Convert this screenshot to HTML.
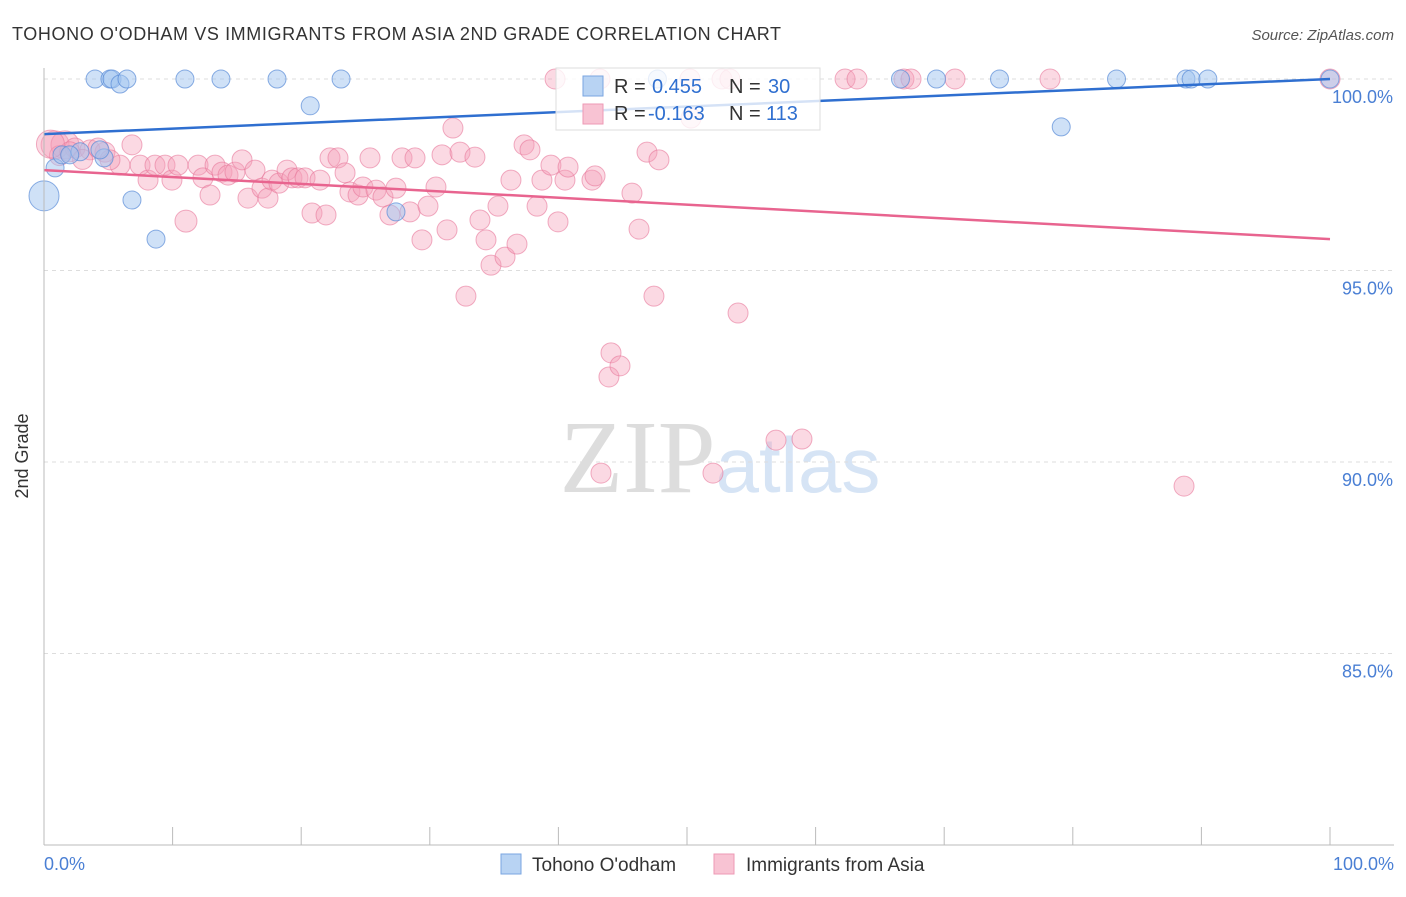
<!DOCTYPE html>
<html><head><meta charset="utf-8"><style>
body{margin:0;background:#fff;font-family:"Liberation Sans",sans-serif}
</style></head><body>
<svg id="c" width="1406" height="892" xmlns="http://www.w3.org/2000/svg">
<text x="12" y="40" font-size="18" fill="#333" textLength="769">TOHONO O'ODHAM VS IMMIGRANTS FROM ASIA 2ND GRADE CORRELATION CHART</text>
<text x="1394" y="40" font-size="15" fill="#555" text-anchor="end" font-style="italic">Source: ZipAtlas.com</text>
<text x="720" y="492" font-size="104" fill="#ddd" text-anchor="middle" font-family="Liberation Serif">ZIP<tspan fill="#d6e4f5" font-family="Liberation Sans" font-size="78">atlas</tspan></text>
<g id="grid"></g><g id="pts"></g><g id="lines"></g>
<line x1="44" y1="68" x2="44" y2="845" stroke="#bbb"/>
<line x1="44" y1="845" x2="1394" y2="845" stroke="#bbb"/>
<text x="28" y="456" font-size="18" fill="#333" text-anchor="middle" transform="rotate(-90 28 456)">2nd Grade</text>
<text x="44" y="870" font-size="18" fill="#4a7fd4">0.0%</text>
<text x="1394" y="870" font-size="18" fill="#4a7fd4" text-anchor="end">100.0%</text>
<g>
<rect x="556" y="68" width="264" height="62" fill="rgba(255,255,255,0.8)" stroke="#ddd"/>
<rect x="583" y="76" width="20" height="20" fill="#b8d3f3" stroke="#7aa6e0"/>
<rect x="583" y="104" width="20" height="20" fill="#f8c3d3" stroke="#ee9ab4"/>
<text x="614" y="93" font-size="20" fill="#333">R =</text><text x="652" y="93" font-size="20" fill="#2f6fd0">0.455</text>
<text x="729" y="93" font-size="20" fill="#333">N =</text><text x="768" y="93" font-size="20" fill="#2f6fd0">30</text>
<text x="614" y="120" font-size="20" fill="#333">R =</text><text x="648" y="120" font-size="20" fill="#2f6fd0">-0.163</text>
<text x="729" y="120" font-size="20" fill="#333">N =</text><text x="766" y="120" font-size="20" fill="#2f6fd0">113</text>
</g>
<g>
<rect x="501" y="854" width="20" height="20" fill="#b8d3f3" stroke="#7aa6e0"/>
<text x="532" y="871" font-size="19" fill="#333">Tohono O'odham</text>
<rect x="714" y="854" width="20" height="20" fill="#f8c3d3" stroke="#ee9ab4"/>
<text x="746" y="871" font-size="19" fill="#333">Immigrants from Asia</text>
</g>
</svg>
<script>
const yTicks=[100,95,90,85];
const yTickLabels=["100.0%","95.0%","90.0%","85.0%"];
const xTicks=[0,10,20,30,40,50,60,70,80,90,100];
const blueX=[3.97,5.13,5.29,5.91,6.45,10.96,13.76,18.12,23.1,20.7,0.86,1.4,2.8,4.67,6.84,8.71,27.37,0,47.7,66.6,69.4,74.3,83.4,88.8,89.2,90.5,100,79.1,2.0,4.35];
const blueY=[100,100,100,99.87,100,100,100,100,100,99.3,97.68,98.02,98.1,97.94,96.84,95.82,96.53,96.95,100,100,100,100,100,100,100,100,100,98.75,98.02,98.15];
const pinkX=[0.86,1.63,2.41,3.58,4.74,5.91,6.84,5.13,7.47,8.09,8.63,9.41,9.95,10.42,11.04,11.98,12.36,12.91,13.3,13.84,14.31,14.85,15.4,15.86,16.41,16.95,17.42,17.73,18.27,18.9,19.28,19.75,20.3,20.84,21.46,21.93,22.24,22.86,23.41,23.79,24.42,24.8,25.35,25.82,26.36,26.9,27.37,27.84,28.46,28.85,29.39,29.86,30.48,30.95,31.34,31.8,32.35,32.81,33.51,33.9,34.37,34.76,35.3,35.85,36.31,36.78,37.33,37.79,38.34,38.72,39.42,39.97,40.51,40.75,42.61,42.85,43.31,43.93,44.09,44.79,45.72,46.27,46.89,47.43,47.82,50.31,52.02,52.72,53.34,53.97,56.92,58.94,62.29,63.22,66.87,67.42,70.84,78.23,88.65,100,43.23,39.74,50.23,1.2,2.0,3.0,4.2,0.5];
const pinkY=[98.28,98.28,98.2,98.15,98.09,97.75,98.28,97.89,97.75,97.36,97.75,97.75,97.36,97.75,96.29,97.75,97.42,96.97,97.75,97.57,97.49,97.57,97.89,96.89,97.62,97.15,96.89,97.36,97.28,97.62,97.42,97.42,97.42,96.5,97.36,96.45,97.94,97.94,97.55,97.05,96.97,97.18,97.94,97.1,96.92,96.45,97.15,97.94,96.53,97.94,95.8,96.68,97.18,98.02,96.06,98.72,98.09,94.33,97.96,96.32,95.8,95.14,96.68,95.35,97.36,95.69,98.28,98.15,96.68,97.36,97.75,96.27,97.36,97.7,97.36,97.47,89.71,92.22,92.85,92.51,97.02,96.08,98.09,94.33,97.89,98.98,89.71,100,100,93.89,90.57,90.6,100,100,100,100,100,100,89.37,100,100,100,100,98.0,98.1,97.9,98.2,98.3];
const blueTrend=[98.56,100];
const pinkTrend=[97.62,95.82];
const X=p=>44+p*12.86, Y=v=>79+(100-v)*38.3;
const NS="http://www.w3.org/2000/svg";
function mk(t,a,parent){const e=document.createElementNS(NS,t);for(const k in a)e.setAttribute(k,a[k]);document.getElementById(parent).appendChild(e);return e;}
yTicks.forEach((v,i)=>{
 const l=mk('line',{x1:44,x2:1394,y1:Y(v),y2:Y(v),stroke:'#ddd','stroke-dasharray':'4,4'},'grid');
 
 
 const t=mk('text',{x:1393,y:Y(v)+24,'font-size':18,fill:'#4a7fd4','text-anchor':'end'},'grid');
 t.textContent=yTickLabels[i];
 
 
});
xTicks.forEach(p=>{
 const l=mk('line',{x1:X(p),x2:X(p),y1:827,y2:845,stroke:'#bbb'},'grid');
 
 
});
pinkX.forEach((p,i)=>{
 const big=(p<2&&pinkY[i]>98.2)?14:(pinkY[i]<96.4&&p>10&&p<12?11:10);
 const c=mk('circle',{cx:X(p),cy:Y(pinkY[i]),r:big,fill:'rgba(244,160,186,0.4)',stroke:'rgba(232,120,155,0.6)'},'pts');
 
 
});
blueX.forEach((p,i)=>{
 const c=mk('circle',{cx:X(p),cy:Y(blueY[i]),r:(p===0?15:9),fill:'rgba(160,196,240,0.5)',stroke:'rgba(90,140,215,0.7)'},'pts');
 
 
});
const bl=mk('line',{x1:X(0),y1:Y(blueTrend[0]),x2:X(100),y2:Y(blueTrend[1]),stroke:'#2f6fd0','stroke-width':2.5},'lines');


const pl=mk('line',{x1:X(0),y1:Y(pinkTrend[0]),x2:X(100),y2:Y(pinkTrend[1]),stroke:'#e8648f','stroke-width':2.5},'lines');


</script>
</body></html>
